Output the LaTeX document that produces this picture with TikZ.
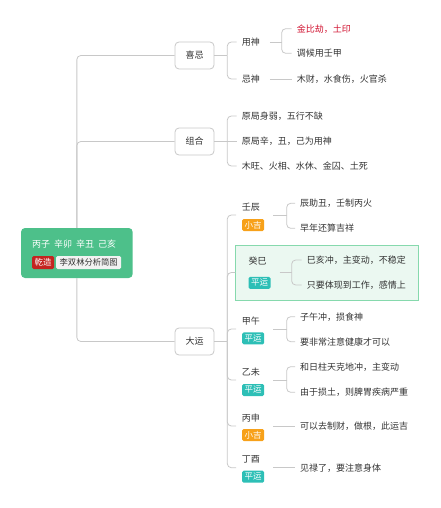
\documentclass[tikz,border=0pt]{standalone}
\usepackage{fontspec}
\setmainfont{Noto Sans CJK SC}
\usepackage{tikz}
\usetikzlibrary{positioning}
\usepackage{xcolor}

\definecolor{linegray}{HTML}{C8C8C8}
\definecolor{textgray}{HTML}{333333}
\definecolor{rootgreen}{HTML}{4DC08A}
\definecolor{tagred}{HTML}{C42420}
\definecolor{taglight}{HTML}{F2F2F2}
\definecolor{tagorange}{HTML}{F7A11A}
\definecolor{tagteal}{HTML}{2DBFB6}
\definecolor{hilitefill}{HTML}{EBF8F1}
\definecolor{hiliteline}{HTML}{86D9AD}
\definecolor{keyred}{HTML}{D0102E}

\begin{document}
\begin{tikzpicture}[
    x=1pt, y=-1pt,
    link/.style = {draw=linegray, line width=0.8pt, rounded corners=4pt},
    rootbox/.style = {rectangle, fill=rootgreen, rounded corners=4pt, minimum width=111.7pt, minimum height=50pt, inner sep=0pt},
    topic/.style = {rectangle, draw=linegray, fill=white, line width=0.8pt, rounded corners=4pt, minimum width=39pt, minimum height=27pt, inner sep=0pt, text=textgray, font=\fontsize{9}{11}\selectfont},
    leaf/.style = {anchor=west, inner xsep=5pt, inner ysep=2pt, text=textgray, font=\fontsize{9}{11}\selectfont},
    yearname/.style = {anchor=west, inner sep=0pt, text=textgray, font=\fontsize{9}{11}\selectfont},
    tagbox/.style = {anchor=west, rectangle, rounded corners=1.5pt, text=white, minimum width=22pt, minimum height=12pt, inner xsep=1pt, inner ysep=0.5pt, font=\fontsize{8.5}{9}\selectfont},
    hilite/.style = {rectangle, fill=hilitefill, draw=hiliteline, line width=0.8pt, minimum width=182.6pt, minimum height=55pt, inner sep=0pt}
]
\useasboundingbox (0,0) rectangle (440,508);

% Root card
\node (root) [rootbox] at (76.85,253) {};
\node (bazi) [anchor=west, inner xsep=3pt, text=white, font=\fontsize{9}{10}\selectfont] at (29,244) {丙子\hspace{4pt}辛卯\hspace{4pt}辛丑\hspace{4pt}己亥};
\node (qianzao) [tagbox, fill=tagred, minimum height=13pt] at (32,262.5) {乾造};
\node (jiantu) [tagbox, fill=taglight, text=textgray, minimum width=65pt, minimum height=13pt, font=\fontsize{8.3}{9}\selectfont] at (56,262.5) {李双林分析简图};

% Main topics
\node (xiji) [topic] at (194.5,55.5) {喜忌};
\node (zuhe) [topic] at (194.5,141.5) {组合};
\node (dayun) [topic] at (194.5,341.5) {大运};

% Highlighted period (behind its texts)
\node (guisi-bg) [hilite] at (327,272.5) {};

% 喜忌 branch
\node (yongshen) [leaf] at (236.7,42) {用神};
\node (jishen) [leaf] at (236.7,79) {忌神};
\node (jinbi) [leaf, text=keyred] at (291.7,28.7) {金比劫，土印};
\node (tiaohou) [leaf] at (291.7,53.3) {调候用壬甲};
\node (mucai) [leaf] at (291.7,79) {木财，水食伤，火官杀};

% 组合 branch
\node (shenruo) [leaf] at (236.7,116) {原局身弱，五行不缺};
\node (yuanju) [leaf] at (236.7,141.5) {原局辛，丑，己为用神};
\node (wangxiang) [leaf] at (236.7,166) {木旺、火相、水休、金囚、土死};

% 大运 branch: periods with tags
\node (renchen) [yearname] at (241.7,207.3) {壬辰};
\node (renchen-tag) [tagbox, fill=tagorange] at (242,225) {小吉};
\node (guisi) [yearname] at (248.3,261) {癸巳};
\node (guisi-tag) [tagbox, fill=tagteal] at (248.3,282.8) {平运};
\node (jiawu) [yearname] at (241.7,320.7) {甲午};
\node (jiawu-tag) [tagbox, fill=tagteal] at (242,338.3) {平运};
\node (yiwei) [yearname] at (241.7,372.3) {乙未};
\node (yiwei-tag) [tagbox, fill=tagteal] at (242,390) {平运};
\node (bingshen) [yearname] at (241.7,417.7) {丙申};
\node (bingshen-tag) [tagbox, fill=tagorange] at (242,435) {小吉};
\node (dingyou) [yearname] at (241.7,459) {丁酉};
\node (dingyou-tag) [tagbox, fill=tagteal] at (242,476.7) {平运};

% period comments
\node (zhuchou) [leaf] at (295,203.3) {辰助丑，壬制丙火};
\node (zaonian) [leaf] at (295,228.3) {早年还算吉祥};
\node (sihai) [leaf] at (301.7,260) {巳亥冲，主变动，不稳定};
\node (zhiyao) [leaf] at (301.7,285) {只要体现到工作，感情上};
\node (ziwu) [leaf] at (295,316.7) {子午冲，损食神};
\node (jiankang) [leaf] at (295,341.7) {要非常注意健康才可以};
\node (rizhu) [leaf] at (295,366.7) {和日柱天克地冲，主变动};
\node (sunt) [leaf] at (295,392.3) {由于损土，则脾胃疾病严重};
\node (zhicai) [leaf] at (295,426) {可以去制财，做根，此运吉};
\node (jianlu) [leaf] at (295,467.7) {见禄了，要注意身体};

% fork points
\coordinate (xiji-fork) at (227.3,55.5);
\coordinate (zuhe-fork) at (227.3,141.5);
\coordinate (dayun-fork) at (227.3,341.5);
\coordinate (yongshen-fork) at (281.7,42);
\coordinate (renchen-in) at (236,215);
\coordinate (renchen-fork) at (286.7,215);
\coordinate (guisi-fork) at (291.7,272.3);
\coordinate (jiawu-in) at (236,329);
\coordinate (jiawu-fork) at (286.7,329);
\coordinate (yiwei-in) at (236,380);
\coordinate (yiwei-fork) at (286.7,380);
\coordinate (bingshen-in) at (236,426);
\coordinate (dingyou-in) at (236,467.7);

% Root to topics
\draw [link] (root.north) |- (xiji.west);
\draw [link] (root.north) |- (zuhe.west);
\draw [link] (root.south) |- (dayun.west);

% 喜忌
\draw [link] (xiji.east) -- (xiji-fork);
\draw [link] (xiji-fork) |- (yongshen.west);
\draw [link] (xiji-fork) |- (jishen.west);
\draw [link, shorten <=4.7pt] (yongshen.east) -- (yongshen-fork);
\draw [link] (yongshen-fork) |- (jinbi.west);
\draw [link] (yongshen-fork) |- (tiaohou.west);
\draw [link, shorten <=4.7pt] (jishen.east) -- (mucai.west);

% 组合
\draw [link] (zuhe.east) -- (zuhe-fork);
\draw [link] (zuhe-fork) |- (shenruo.west);
\draw [link] (zuhe-fork) -- (yuanju.west);
\draw [link] (zuhe-fork) |- (wangxiang.west);

% 大运
\draw [link] (dayun.east) -- (dayun-fork);
\draw [link] (dayun-fork) |- (renchen-in);
\draw [link] (dayun-fork) |- (guisi-bg.west);
\draw [link] (dayun-fork) |- (jiawu-in);
\draw [link] (dayun-fork) |- (yiwei-in);
\draw [link] (dayun-fork) |- (bingshen-in);
\draw [link] (dayun-fork) |- (dingyou-in);

% periods to comments
\draw [link] (renchen-tag.east |- renchen-in) ++(9,0) -- (renchen-fork);
\draw [link] (renchen-fork) |- (zhuchou.west);
\draw [link] (renchen-fork) |- (zaonian.west);
\draw [link] (guisi-tag.east |- guisi-fork) ++(9,0) -- (guisi-fork);
\draw [link] (guisi-fork) |- (sihai.west);
\draw [link] (guisi-fork) |- (zhiyao.west);
\draw [link] (jiawu-tag.east |- jiawu-in) ++(9,0) -- (jiawu-fork);
\draw [link] (jiawu-fork) |- (ziwu.west);
\draw [link] (jiawu-fork) |- (jiankang.west);
\draw [link] (yiwei-tag.east |- yiwei-in) ++(9,0) -- (yiwei-fork);
\draw [link] (yiwei-fork) |- (rizhu.west);
\draw [link] (yiwei-fork) |- (sunt.west);
\draw [link] (bingshen-tag.east |- bingshen-in) ++(9,0) -- (zhicai.west);
\draw [link] (dingyou-tag.east |- dingyou-in) ++(9,0) -- (jianlu.west);

\end{tikzpicture}
\end{document}
